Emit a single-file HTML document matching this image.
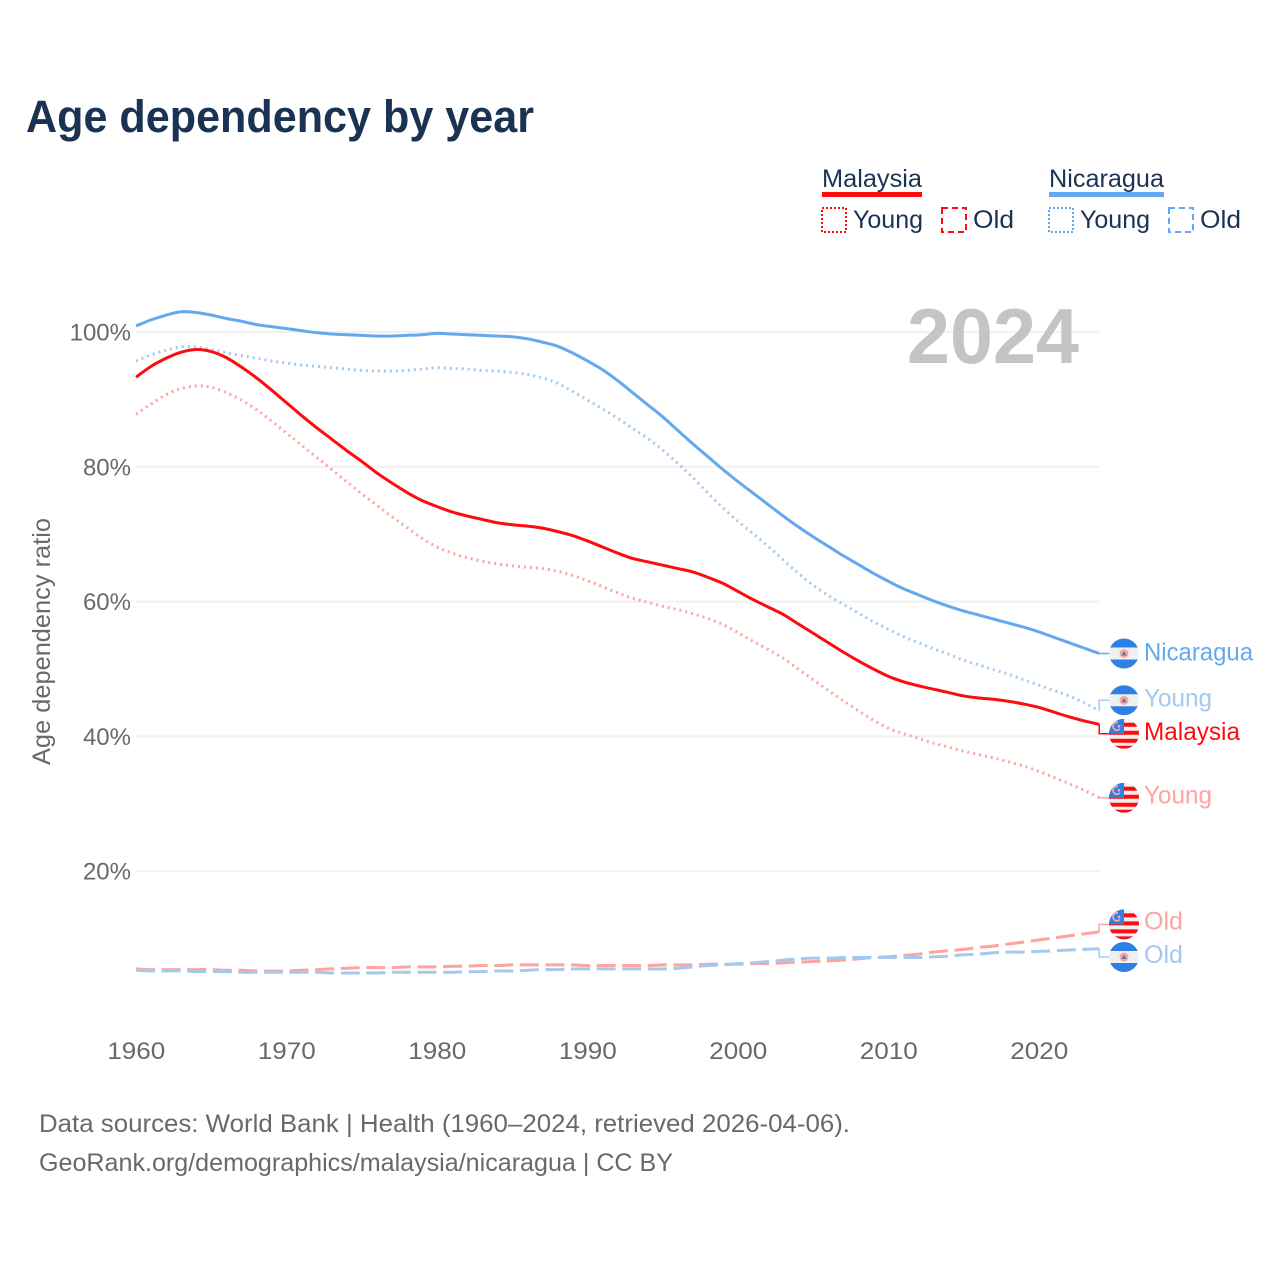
<!DOCTYPE html>
<html lang="en">
<head>
<meta charset="utf-8">
<title>Age dependency by year</title>
<style>
html,body{margin:0;padding:0;background:#fff;}
#chart{display:block;width:1280px;height:1280px;font-family:"Liberation Sans",sans-serif;}
.dk{fill:#1a3352;}
.gy{fill:#666a6e;}
</style>
</head>
<body>
<svg id="chart" xmlns="http://www.w3.org/2000/svg" width="1280" height="1280" viewBox="0 0 1280 1280">
<defs>
<clipPath id="flag-clip"><circle cx="0" cy="0" r="15"/></clipPath>
<g id="flag-nic" clip-path="url(#flag-clip)">
<rect x="-15" y="-15" width="30" height="30" fill="#f0f0f0"/>
<rect x="-15" y="-15" width="30" height="9" fill="#2f80e4"/>
<rect x="-15" y="6" width="30" height="9" fill="#2f80e4"/>
<circle cx="0" cy="0" r="4.5" fill="#ffa3a0"/>
<path d="M-2.5 2L0-2.5L2.5 2Z" fill="#4a7fb5"/>
</g>
<g id="flag-mys" clip-path="url(#flag-clip)">
<rect x="-15" y="-15" width="30" height="30" fill="#f0f0f0"/>
<rect x="-15" y="-11" width="30" height="4" fill="#ff0b0f"/>
<rect x="-15" y="-3" width="30" height="4" fill="#ff0b0f"/>
<rect x="-15" y="5" width="30" height="4" fill="#ff0b0f"/>
<rect x="-15" y="12" width="30" height="3" fill="#ff0b0f"/>
<rect x="-15" y="-15" width="15" height="15" fill="#2f80e4"/>
<circle cx="-7" cy="-7.5" r="4" fill="none" stroke="#ffa3a0" stroke-width="1.8" stroke-dasharray="17 8" transform="rotate(40 -7 -7.5)"/>
<circle cx="-5" cy="-7.5" r="1.4" fill="#ffa3a0"/>
</g>
</defs>

<text x="26" y="132" font-size="45" font-weight="700" fill="#1a3352" textLength="508" lengthAdjust="spacingAndGlyphs">Age dependency by year</text>

<g font-size="25">
<g>
<text class="dk" x="822" y="187" textLength="100" lengthAdjust="spacingAndGlyphs">Malaysia</text>
<rect x="822" y="192" width="100" height="5" fill="#ff0b0f"/>
<rect x="822" y="208" width="24" height="24" fill="none" stroke="#ff0b0f" stroke-width="2" stroke-dasharray="2 2"/>
<text class="dk" x="853" y="228" textLength="70" lengthAdjust="spacingAndGlyphs">Young</text>
<rect x="942" y="208" width="24" height="24" fill="none" stroke="#ff0b0f" stroke-width="2" stroke-dasharray="6 4"/>
<text class="dk" x="973" y="228" textLength="41" lengthAdjust="spacingAndGlyphs">Old</text>
</g>
<g>
<text class="dk" x="1049" y="187" textLength="115" lengthAdjust="spacingAndGlyphs">Nicaragua</text>
<rect x="1049" y="192" width="115" height="5" fill="#64a8ee"/>
<rect x="1049" y="208" width="24" height="24" fill="none" stroke="#64a8ee" stroke-width="2" stroke-dasharray="2 2"/>
<text class="dk" x="1080" y="228" textLength="70" lengthAdjust="spacingAndGlyphs">Young</text>
<rect x="1169" y="208" width="24" height="24" fill="none" stroke="#64a8ee" stroke-width="2" stroke-dasharray="6 4"/>
<text class="dk" x="1200" y="228" textLength="41" lengthAdjust="spacingAndGlyphs">Old</text>
</g>
</g>

<g id="grid"></g>
<text x="907" y="363" font-size="78" font-weight="700" fill="#c4c4c4" textLength="172" lengthAdjust="spacingAndGlyphs">2024</text>
<g id="y-axis"></g>
<g id="x-axis"></g>
<text class="gy" font-size="25" transform="translate(50 765) rotate(-90)" textLength="247" lengthAdjust="spacingAndGlyphs">Age dependency ratio</text>
<g id="series"></g>
<g id="end-labels"></g>

<text class="gy" x="39" y="1132" font-size="25" textLength="811" lengthAdjust="spacingAndGlyphs">Data sources: World Bank | Health (1960–2024, retrieved 2026-04-06).</text>
<text class="gy" x="39" y="1171" font-size="25" textLength="634" lengthAdjust="spacingAndGlyphs">GeoRank.org/demographics/malaysia/nicaragua | CC BY</text>
</svg>
<script>
const startYear = 1960;
const xTicks = [1960, 1970, 1980, 1990, 2000, 2010, 2020];
const yTicks = [20, 40, 60, 80, 100];
const nicaraguaTotal = [100.9,101.8,102.5,103.0,102.9,102.5,102.0,101.6,101.1,100.8,100.5,100.2,99.9,99.7,99.6,99.5,99.4,99.4,99.5,99.6,99.8,99.7,99.6,99.5,99.4,99.3,99.0,98.5,97.9,96.9,95.7,94.4,92.8,91.0,89.2,87.4,85.4,83.4,81.5,79.6,77.8,76.1,74.4,72.7,71.1,69.6,68.2,66.8,65.5,64.2,63.0,61.9,61.0,60.1,59.3,58.6,58.0,57.4,56.8,56.2,55.5,54.7,53.9,53.1,52.3];
const nicaraguaYoung = [95.7,96.6,97.3,97.8,97.8,97.4,96.9,96.5,96.1,95.7,95.4,95.1,94.9,94.7,94.5,94.3,94.2,94.2,94.3,94.5,94.7,94.6,94.5,94.3,94.2,94.0,93.7,93.2,92.4,91.2,89.9,88.6,87.2,85.7,84.2,82.5,80.5,78.4,76.1,73.9,71.9,70.1,68.2,66.2,64.2,62.4,60.9,59.6,58.3,57.0,55.9,54.8,53.9,53.0,52.2,51.3,50.6,49.9,49.2,48.4,47.6,46.8,46.0,45.0,43.8];
const malaysiaTotal = [93.3,94.9,96.1,97.0,97.4,97.1,96.2,94.8,93.2,91.4,89.5,87.6,85.8,84.1,82.4,80.8,79.1,77.6,76.2,75.0,74.1,73.3,72.7,72.2,71.7,71.4,71.2,70.9,70.4,69.8,69.0,68.1,67.2,66.4,65.9,65.4,64.9,64.4,63.6,62.7,61.5,60.3,59.2,58.1,56.7,55.3,53.9,52.5,51.2,50.0,48.9,48.1,47.5,47.0,46.5,46.0,45.7,45.5,45.2,44.8,44.3,43.6,42.9,42.3,41.8];
const malaysiaYoung = [87.8,89.3,90.7,91.6,92.0,91.8,91.0,89.9,88.5,86.8,85.0,83.2,81.4,79.6,77.8,76.0,74.3,72.6,71.0,69.4,68.1,67.2,66.5,66.0,65.6,65.3,65.1,64.9,64.5,63.9,63.1,62.2,61.3,60.5,59.9,59.3,58.8,58.2,57.5,56.6,55.4,54.1,52.9,51.6,50.0,48.4,46.8,45.3,43.8,42.4,41.2,40.4,39.7,39.0,38.4,37.8,37.3,36.8,36.2,35.6,34.8,33.9,33.0,32.0,30.9];
const malaysiaOld = [5.5,5.4,5.4,5.4,5.4,5.4,5.3,5.3,5.2,5.2,5.2,5.3,5.4,5.5,5.6,5.7,5.7,5.7,5.8,5.8,5.8,5.9,5.9,6.0,6.0,6.1,6.1,6.1,6.1,6.1,6.0,6.0,6.0,6.0,6.0,6.1,6.1,6.1,6.2,6.2,6.2,6.3,6.3,6.4,6.5,6.6,6.7,6.8,7.0,7.2,7.3,7.5,7.7,8.0,8.2,8.4,8.7,8.9,9.2,9.5,9.8,10.1,10.4,10.7,11.0];
const nicaraguaOld = [5.3,5.2,5.2,5.2,5.1,5.1,5.1,5.0,5.0,5.0,5.0,5.0,5.0,4.9,4.9,4.9,4.9,5.0,5.0,5.0,5.0,5.0,5.1,5.1,5.2,5.2,5.3,5.4,5.4,5.5,5.5,5.5,5.5,5.5,5.5,5.5,5.6,5.8,6.0,6.1,6.3,6.4,6.6,6.8,7.0,7.1,7.1,7.2,7.2,7.2,7.2,7.2,7.2,7.3,7.4,7.6,7.7,7.9,8.0,8.0,8.1,8.2,8.3,8.4,8.5];

const SVGNS = 'http://www.w3.org/2000/svg';
const xScale = year => 136 + (year - 1960) * 15.05;
const yScale = pct => 332 + (100 - pct) * 6.74;
function make(tag, attrs, parent, text) {
  const el = document.createElementNS(SVGNS, tag);
  for (const k in attrs) el.setAttribute(k, attrs[k]);
  if (text !== undefined) el.textContent = text;
  parent.appendChild(el);
  return el;
}
function smoothPath(values) {
  const p = values.map((v, i) => [xScale(startYear + i), yScale(v)]);
  let d = 'M' + p[0][0].toFixed(2) + ' ' + p[0][1].toFixed(2);
  for (let i = 0; i < p.length - 1; i++) {
    const a = p[Math.max(i - 1, 0)], b = p[i], c = p[i + 1], e = p[Math.min(i + 2, p.length - 1)];
    const c1x = b[0] + (c[0] - a[0]) / 6, c1y = b[1] + (c[1] - a[1]) / 6;
    const c2x = c[0] - (e[0] - b[0]) / 6, c2y = c[1] - (e[1] - b[1]) / 6;
    d += 'C' + c1x.toFixed(2) + ' ' + c1y.toFixed(2) + ' ' + c2x.toFixed(2) + ' ' + c2y.toFixed(2) + ' ' + c[0].toFixed(2) + ' ' + c[1].toFixed(2);
  }
  return d;
}

const grid = document.getElementById('grid');
const yAxis = document.getElementById('y-axis');
const xAxis = document.getElementById('x-axis');
yTicks.forEach(t => {
  const line = make('line', {x1: 136, x2: 1099, y1: yScale(t), y2: yScale(t), stroke: '#f1f1f1', 'stroke-width': 2}, grid);
  
  
  const label = make('text', {x: 131, y: yScale(t) + 8.5, 'text-anchor': 'end', 'font-size': 24, fill: '#666a6e'}, yAxis, t + '%');
  
  
});
xTicks.forEach(t => {
  const label = make('text', {x: xScale(t) - 28.7, y: 1059, 'font-size': 24, fill: '#666a6e', textLength: 58, lengthAdjust: 'spacingAndGlyphs'}, xAxis, String(t));
  
  
});

const RED = '#ff0b0f', BLUE = '#64a8ee', LRED = '#ffa3a0', LBLUE = '#a3c9f0';
const DOT = '2 4', DASH = '19 6.6';
const seriesGroup = document.getElementById('series');
const labelsGroup = document.getElementById('end-labels');
const xEnd = xScale(2024), xFlag = 1124;

function drawSeries(name, values, color, width, dash, textColor, flag, labelText, labelWidth, offset, labelShift) {
  const path = make('path', {d: smoothPath(values), fill: 'none', stroke: color, 'stroke-width': width, 'stroke-linejoin': 'round'}, seriesGroup);
  if (dash) path.setAttribute('stroke-dasharray', dash);
  
  

  const yLast = yScale(values[values.length - 1]);
  const yFlag = yLast + offset;
  const conn = make('path', {d: 'M' + xEnd + ' ' + yLast + 'V' + yFlag + 'H1110', fill: 'none', stroke: color, 'stroke-width': 1.5}, labelsGroup);
  
  

  const icon = make('use', {href: '#' + flag, x: xFlag, y: yFlag}, labelsGroup);
  
  

  const label = make('text', {x: 1144, y: yFlag + labelShift, 'font-size': 25, fill: textColor, textLength: labelWidth, lengthAdjust: 'spacingAndGlyphs'}, labelsGroup, labelText);
  
  
}

drawSeries('malaysia-old', malaysiaOld, LRED, 3, DASH, LRED, 'flag-mys', 'Old', 39, -7.5, 5);
drawSeries('nicaragua-old', nicaraguaOld, LBLUE, 3, DASH, LBLUE, 'flag-nic', 'Old', 39, 8.3, 6);
drawSeries('malaysia-young', malaysiaYoung, LRED, 3, DOT, LRED, 'flag-mys', 'Young', 68, 0, 6);
drawSeries('nicaragua-young', nicaraguaYoung, LBLUE, 3, DOT, LBLUE, 'flag-nic', 'Young', 68, -10.5, 6);
drawSeries('nicaragua-total', nicaraguaTotal, BLUE, 3, '', BLUE, 'flag-nic', 'Nicaragua', 109, 0, 7);
drawSeries('malaysia-total', malaysiaTotal, RED, 3, '', RED, 'flag-mys', 'Malaysia', 96, 9.5, 6);
</script>
</body>
</html>
